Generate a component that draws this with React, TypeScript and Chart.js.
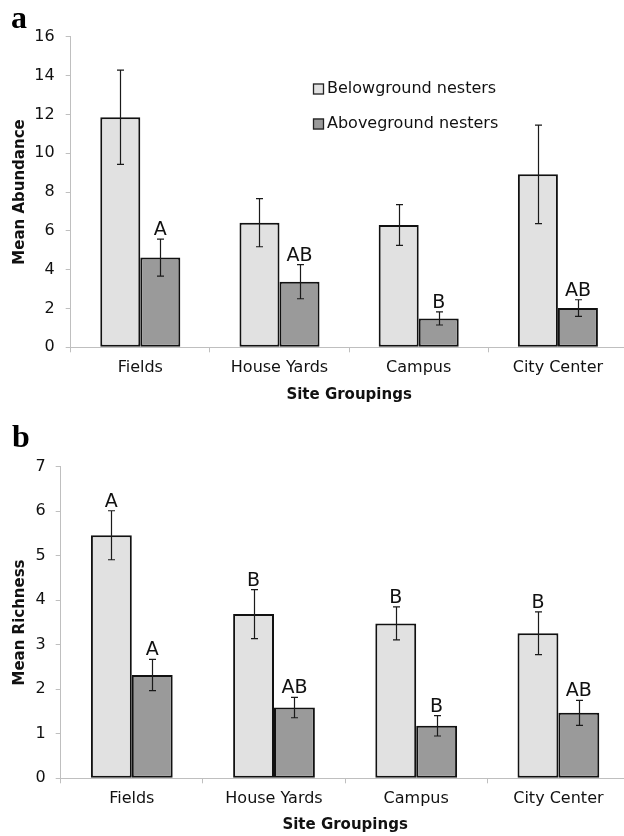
import React, { useEffect, useRef } from "react";
import { Chart, registerables } from "chart.js";

Chart.register(...registerables);
Chart.defaults.font.family = '"DejaVu Sans", sans-serif';
Chart.defaults.color = "#111";

const sites = ["Fields", "House Yards", "Campus", "City Center"];
const seriesNames = ["Belowground nesters", "Aboveground nesters"];
const seriesColors = ["#e1e1e1", "#9a9a9a"];

const abundanceBelow = [11.85, 6.42, 6.3, 8.91];
const abundanceBelowErr = [2.43, 1.24, 1.05, 2.54];
const abundanceAbove = [4.62, 3.38, 1.49, 2.02];
const abundanceAboveErr = [0.95, 0.88, 0.34, 0.43];
const abundanceBelowLetters = ["", "", "", ""];
const abundanceAboveLetters = ["A", "AB", "B", "AB"];

const richnessBelow = [5.46, 3.69, 3.48, 3.26];
const richnessBelowErr = [0.55, 0.55, 0.37, 0.48];
const richnessAbove = [2.32, 1.59, 1.18, 1.47];
const richnessAboveErr = [0.35, 0.23, 0.23, 0.28];
const richnessBelowLetters = ["A", "B", "B", "B"];
const richnessAboveLetters = ["A", "AB", "B", "AB"];

const annotatePlugin = {
  id: "annotate",
  afterDatasetsDraw(chart: any, _args: any, opts: any) {
    const ctx = chart.ctx;
    const ys = chart.scales.y;
    chart.data.datasets.forEach((ds: any, i: number) => {
      const meta = chart.getDatasetMeta(i);
      meta.data.forEach((bar: any, j: number) => {
        const v = ds.data[j];
        const e = opts.errors[i][j];
        const yt = ys.getPixelForValue(v + e);
        const yb = ys.getPixelForValue(v - e);
        const x = Math.round(bar.x) + 0.5;
        ctx.save();
        ctx.strokeStyle = "#1a1a1a";
        ctx.lineWidth = 1.2;
        ctx.beginPath();
        ctx.moveTo(x, yt);
        ctx.lineTo(x, yb);
        ctx.moveTo(x - 3.5, yt);
        ctx.lineTo(x + 3.5, yt);
        ctx.moveTo(x - 3.5, yb);
        ctx.lineTo(x + 3.5, yb);
        ctx.stroke();
        const letter = opts.letters[i][j];
        if (letter) {
          ctx.fillStyle = "#111";
          ctx.font = '19px "DejaVu Sans"';
          ctx.textAlign = "center";
          ctx.textBaseline = "alphabetic";
          ctx.fillText(letter, bar.x, yt - 4);
        }
        ctx.restore();
      });
    });
  },
  afterDraw(chart: any, _args: any, opts: any) {
    const ctx = chart.ctx;
    ctx.save();
    ctx.fillStyle = "#000";
    ctx.font = 'bold 32px "Liberation Serif"';
    ctx.textAlign = "left";
    ctx.textBaseline = "alphabetic";
    ctx.fillText(opts.panel.text, opts.panel.x, opts.panel.y);
    if (opts.legend) {
      const { x, y, gap, size } = opts.legend;
      chart.data.datasets.forEach((ds: any, i: number) => {
        const cy = y + i * gap;
        ctx.fillStyle = ds.backgroundColor;
        ctx.fillRect(x, cy - size / 2, size, size);
        ctx.strokeStyle = "#222";
        ctx.lineWidth = 1.3;
        ctx.strokeRect(x + 0.5, cy - size / 2 + 0.5, size - 1, size - 1);
        ctx.fillStyle = "#111";
        ctx.font = '16px "DejaVu Sans"';
        ctx.textBaseline = "middle";
        ctx.fillText(ds.label, x + size + 3, cy);
      });
    }
    ctx.restore();
  },
};

function makeConfig(p: any) {
  return {
    type: "bar",
    data: {
      labels: sites,
      datasets: p.values.map((vals: number[], i: number) => ({
        label: seriesNames[i],
        data: vals,
        backgroundColor: seriesColors[i],
        borderColor: "#111",
        borderWidth: 2,
        borderSkipped: false,
        categoryPercentage: 0.575,
        barPercentage: 1,
      })),
    },
    plugins: [annotatePlugin],
    options: {
      responsive: false,
      animation: false,
      layout: { padding: { top: p.top, right: p.right, left: 0, bottom: 0 } },
      plugins: {
        legend: { display: false },
        tooltip: { enabled: false },
        annotate: {
          errors: p.errors,
          letters: p.letters,
          panel: p.panel,
          legend: p.legend,
        },
      },
      scales: {
        x: {
          grid: {
            display: true,
            drawOnChartArea: false,
            drawTicks: true,
            tickLength: 5,
            color: "#bfbfbf",
            offset: true,
          },
          border: { display: true, color: "#bfbfbf", width: 1 },
          ticks: { font: { size: 16 }, color: "#111", padding: 6, maxRotation: 0, autoSkip: false },
          title: {
            display: true,
            text: "Site Groupings",
            font: { size: 15, weight: "bold" },
            color: "#111",
            padding: { top: 0, bottom: p.xTitlePad },
          },
          afterFit: (s: any) => {
            s.height = p.xHeight;
          },
        },
        y: {
          min: 0,
          max: p.yMax,
          ticks: { stepSize: p.yStep, font: { size: 16 }, color: "#111", padding: p.yTickPad },
          grid: { display: true, drawOnChartArea: false, drawTicks: true, tickLength: 5, color: "#bfbfbf" },
          border: { display: true, color: "#bfbfbf", width: 1 },
          title: {
            display: true,
            text: p.yTitle,
            font: { size: 15, weight: "bold" },
            color: "#111",
            padding: { top: 11, bottom: 0 },
          },
          afterFit: (s: any) => {
            s.width = p.yWidth;
          },
        },
      },
    },
  };
}

const panelA = {
  values: [abundanceBelow, abundanceAbove],
  errors: [abundanceBelowErr, abundanceAboveErr],
  letters: [abundanceBelowLetters, abundanceAboveLetters],
  yMax: 16,
  yStep: 2,
  yTitle: "Mean Abundance",
  top: 36.7,
  right: 12.5,
  xHeight: 62.7,
  yWidth: 70.7,
  xTitlePad: 6,
  yTickPad: 11,
  panel: { text: "a", x: 11, y: 28 },
  legend: { x: 313, y: 89, gap: 35, size: 11 },
};

const panelB = {
  values: [richnessBelow, richnessAbove],
  errors: [richnessBelowErr, richnessAboveErr],
  letters: [richnessBelowLetters, richnessAboveLetters],
  yMax: 7,
  yStep: 1,
  yTitle: "Mean Richness",
  top: 56.7,
  right: 10.5,
  xHeight: 57.7,
  yWidth: 60.7,
  xTitlePad: 2,
  yTickPad: 10,
  panel: { text: "b", x: 12, y: 37 },
  legend: null,
};

function BarPanel({ cfg, width, height, top }: any) {
  const ref = useRef<HTMLCanvasElement | null>(null);
  useEffect(() => {
    if (!ref.current) return;
    const chart = new Chart(ref.current, makeConfig(cfg) as any);
    return () => chart.destroy();
  }, [cfg]);
  return (
    <canvas
      ref={ref}
      width={width}
      height={height}
      style={{ position: "absolute", left: 0, top, width, height }}
    />
  );
}

export default function App() {
  return (
    <div
      style={{
        position: "fixed",
        left: 0,
        top: 0,
        width: 624,
        height: 836,
        overflow: "hidden",
        background: "#fff",
      }}
    >
      <BarPanel cfg={panelA} width={640} height={410} top={0} />
      <BarPanel cfg={panelB} width={640} height={426} top={410} />
    </div>
  );
}
